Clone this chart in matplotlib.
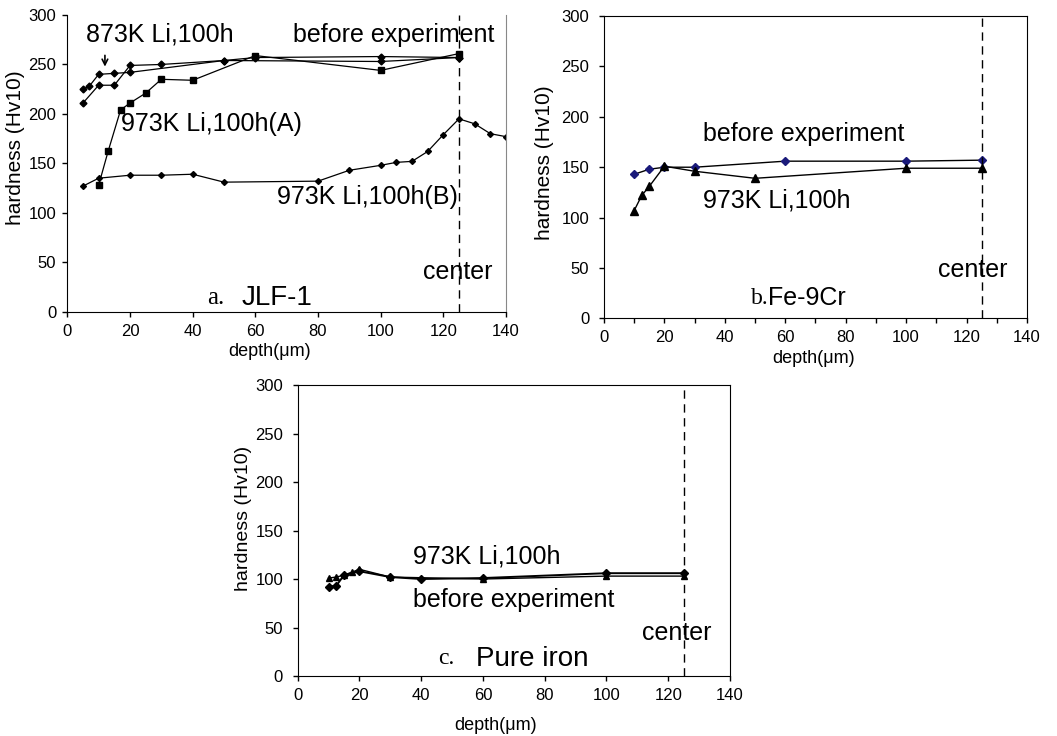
import matplotlib
matplotlib.use("Agg")
import matplotlib.pyplot as plt
from matplotlib.ticker import MultipleLocator

NARROW = ["Liberation Sans Narrow", "Liberation Sans", "DejaVu Sans"]
SANS = ["Liberation Sans", "DejaVu Sans"]
SERIF = ["Liberation Serif", "DejaVu Serif"]

# ---- a. JLF-1 ----
a_x_873 = [5, 7, 10, 15, 20, 50, 100, 125]
a_y_873 = [225, 228, 240, 241, 242, 254, 253, 257]
a_x_before = [5, 10, 15, 20, 30, 50, 60, 100, 125]
a_y_before = [211, 229, 229, 249, 250, 254, 257, 258, 257]
a_x_A = [10, 13, 17, 20, 25, 30, 40, 60, 100, 125]
a_y_A = [128, 162, 204, 211, 221, 235, 234, 259, 244, 261]
a_x_B = [5, 10, 20, 30, 40, 50, 80, 90, 100, 105, 110, 115, 120, 125, 130, 135, 140]
a_y_B = [127, 135, 138, 138, 139, 131, 132, 143, 148, 151, 152, 162, 179, 195, 190, 180, 177]

# ---- b. Fe-9Cr ----
b_x_before = [10, 15, 20, 30, 60, 100, 125]
b_y_before = [143, 148, 150, 150, 156, 156, 157]
b_x_973 = [10, 12.5, 15, 20, 30, 50, 100, 125]
b_y_973 = [107, 122, 131, 151, 146, 139, 149, 149]

# ---- c. Pure iron ----
c_x_973 = [10, 12.5, 15, 17.5, 20, 30, 60, 100, 125]
c_y_973 = [101, 102, 104, 107, 110, 102, 100, 103, 103]
c_x_before = [10, 12.5, 15, 20, 30, 40, 60, 100, 125]
c_y_before = [92, 93, 104, 108, 102, 100, 101, 106, 106]

center_x = 125
xticks = [0, 20, 40, 60, 80, 100, 120, 140]
yticks = [0, 50, 100, 150, 200, 250, 300]

fig = plt.figure(figsize=(10.57, 7.36), dpi=100)
fig.patch.set_facecolor("white")

ax_a = fig.add_axes([0.0637, 0.5765, 0.4150, 0.4031])
ax_b = fig.add_axes([0.5714, 0.5673, 0.4002, 0.4110])
ax_c = fig.add_axes([0.2816, 0.0815, 0.4090, 0.3954])


def style_axes(ax, ylab_size, ylab_pos, xlab_pos, ypad=7, minor_x=False):
    ax.set_xlim(0, 140)
    ax.set_ylim(0, 300)
    ax.set_xticks(xticks)
    ax.set_yticks(yticks)
    if minor_x:
        ax.xaxis.set_minor_locator(MultipleLocator(10))
    ax.tick_params(direction="out", length=3.5, width=1, labelsize=12)
    ax.tick_params(axis="x", pad=5)
    ax.tick_params(axis="y", pad=ypad)
    ax.tick_params(which="minor", direction="out", length=3.5, width=1)
    for lab in ax.get_xticklabels() + ax.get_yticklabels():
        lab.set_family(NARROW)
    ax.set_ylabel("hardness (Hv10)", fontsize=ylab_size, family=SANS)
    ax.yaxis.set_label_coords(*ylab_pos)
    ax.set_xlabel("depth(μm)", fontsize=13, family=NARROW)
    ax.xaxis.set_label_coords(*xlab_pos)
    ax.axvline(center_x, color="black", linestyle=(0, (6, 4)), linewidth=1)


# panel a
ax = ax_a
ax.plot(a_x_before, a_y_before, "D-", color="black", lw=0.9, ms=3.5)
ax.plot(a_x_873, a_y_873, "D-", color="black", lw=0.9, ms=3.5)
ax.plot(a_x_A, a_y_A, "s-", color="black", lw=0.9, ms=4.5)
ax.plot(a_x_B, a_y_B, "D-", color="black", lw=0.9, ms=3.0)
style_axes(ax, 15, (-0.097, 0.553), (0.46, -0.105), ypad=4.5)
ax.spines["top"].set_visible(False)
ax.spines["right"].set_color("#888888")
ax.text(6, 280, "873K Li,100h", fontsize=18, family=NARROW, va="center")
ax.annotate("", xy=(12, 245), xytext=(12, 262),
            arrowprops=dict(arrowstyle="->", color="black", lw=1.2))
ax.text(72, 280, "before experiment", fontsize=18, family=NARROW, va="center")
ax.text(17, 190, "973K Li,100h(A)", fontsize=18, family=NARROW, va="center")
ax.text(67, 116, "973K Li,100h(B)", fontsize=18, family=NARROW, va="center")
ax.text(113.6, 40, "center", fontsize=18, family=NARROW, va="center")
ax.text(44.5, 14, "a.", fontsize=18, family=SERIF, va="center")
ax.text(55.6, 14, "JLF-1", fontsize=20, family=NARROW, va="center")

# panel b
ax = ax_b
ax.plot(b_x_before, b_y_before, "D-", color="black", mfc="#1a1a7a",
        mec="#1a1a7a", lw=1.0, ms=4)
ax.plot(b_x_973, b_y_973, "^-", color="black", lw=1.0, ms=5.5)
style_axes(ax, 15, (-0.117, 0.514), (0.496, -0.105), minor_x=True)
ax.text(32.8, 183, "before experiment", fontsize=18, family=NARROW, va="center")
ax.text(32.8, 117, "973K Li,100h", fontsize=18, family=NARROW, va="center")
ax.text(110.6, 48, "center", fontsize=18, family=NARROW, va="center")
ax.text(48.8, 20, "b.", fontsize=17, family=SERIF, va="center")
ax.text(54.3, 20, "Fe-9Cr", fontsize=18, family=NARROW, va="center")

# panel c
ax = ax_c
ax.plot(c_x_before, c_y_before, "D-", color="black", lw=1.4, ms=4)
ax.plot(c_x_973, c_y_973, "^-", color="black", lw=1.0, ms=5)
style_axes(ax, 14, (-0.106, 0.54), (0.458, -0.14))
ax.text(37.2, 123, "973K Li,100h", fontsize=18, family=NARROW, va="center")
ax.text(37.2, 78, "before experiment", fontsize=18, family=NARROW, va="center")
ax.text(111.4, 44, "center", fontsize=18, family=NARROW, va="center")
ax.text(45.5, 18, "c.", fontsize=17, family=SERIF, va="center")
ax.text(57.7, 18, "Pure iron", fontsize=20, family=NARROW, va="center")

fig.savefig("out.png", dpi=100, facecolor="white")
plt.close()
